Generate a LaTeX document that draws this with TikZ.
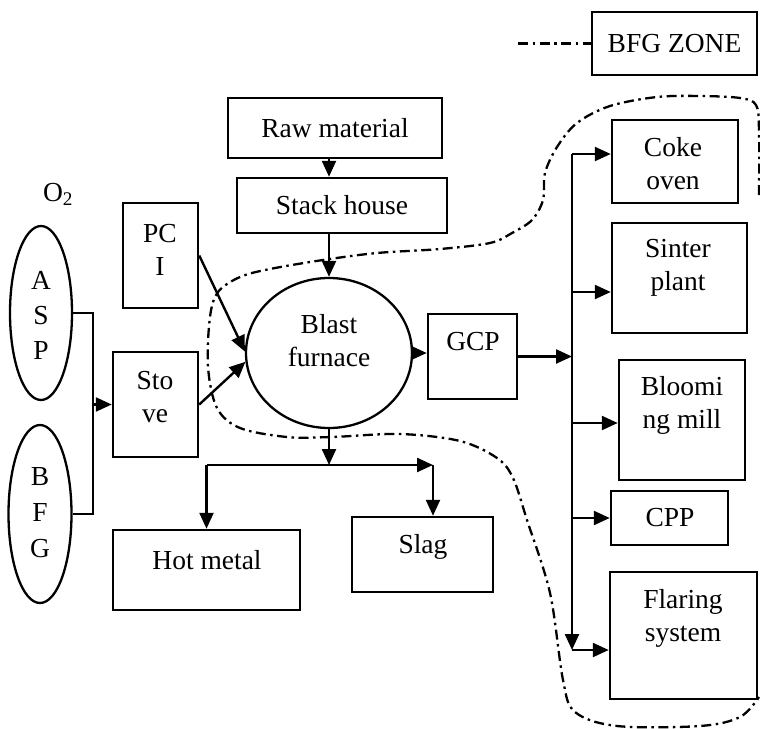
\documentclass[tikz,border=0pt]{standalone}
\usepackage{fontspec}
\setmainfont{Liberation Serif}
\usetikzlibrary{arrows.meta,shapes.geometric}
\begin{document}
\begin{tikzpicture}[x=1pt,y=-1pt,
  box/.style={draw, line width=2.5pt, inner sep=0pt},
  oval/.style={draw, ellipse, line width=2.3pt, inner sep=0pt},
  txt/.style={align=center, inner sep=0pt, font=\fontsize{27.5}{33}\selectfont},
  arr/.style={-{Triangle[length=16pt,width=14pt]}, line width=2.4pt},
  ln/.style={line width=2.4pt},
  zone/.style={line width=2.3pt, dash pattern=on 10pt off 4.5pt on 2.5pt off 4.5pt}]
\useasboundingbox (0,0) rectangle (760,728);

% legend
\node[box, minimum width=165pt, minimum height=63pt] (legend) at (674.5,43.5) {};
\node[txt] (legendT) at (674.5,43.5) {BFG ZONE};
\coordinate (lgs) at (518,43.5);
\draw[zone] (lgs) -- (legend.west);

% boxes
\node[box, minimum width=214pt, minimum height=60pt] (raw) at (335,128) {};
\node[txt] (rawT) at (335,128) {Raw material};
\node[box, minimum width=210pt, minimum height=55pt] (stack) at (342,205.5) {};
\node[txt] (stackT) at (342,205.5) {Stack house};
\node[box, minimum width=75pt, minimum height=105pt] (pci) at (160.5,255.5) {};
\node[txt] (pciT) at (160,250) {PC\\I};
\node[box, minimum width=85pt, minimum height=105pt] (stove) at (155.5,404.5) {};
\node[txt] (stoveT) at (155,397) {Sto\\ve};
\node[oval, minimum width=166pt, minimum height=150pt] (blast) at (329,353) {};
\node[txt] (blastT) at (329,341) {Blast\\furnace};
\node[box, minimum width=89pt, minimum height=85pt] (gcp) at (472.5,356.5) {};
\node[txt] (gcpT) at (473,342) {GCP};

\node[oval, minimum width=62pt, minimum height=174pt] (asp) at (41,313) {};
\node[txt, font=\fontsize{27.5}{35}\selectfont] (aspT) at (41,315) {A\\S\\P};
\node[oval, minimum width=63pt, minimum height=178pt] (bfg) at (40,514) {};
\node[txt, font=\fontsize{27.5}{36}\selectfont] (bfgT) at (40,513) {B\\F\\G};
\node[txt] (o2) at (58,194) {O\textsubscript{2}};

\node[box, minimum width=126pt, minimum height=83pt] (coke) at (675,161.5) {};
\node[txt] (cokeT) at (673,164) {Coke\\oven};
\node[box, minimum width=135pt, minimum height=110pt] (sinter) at (679.5,278) {};
\node[txt] (sinterT) at (678,268) {Sinter\\plant};
\node[box, minimum width=126pt, minimum height=120pt] (bloom) at (682,420) {};
\node[txt] (bloomT) at (682,405) {Bloomi\\ng mill};
\node[box, minimum width=117pt, minimum height=54pt] (cpp) at (669.5,518) {};
\node[txt] (cppT) at (670,518) {CPP};
\node[box, minimum width=147pt, minimum height=127pt] (flare) at (683.5,635.5) {};
\node[txt] (flareT) at (683,618) {Flaring\\system};

\node[box, minimum width=187pt, minimum height=80pt] (hot) at (206.5,570) {};
\node[txt] (hotT) at (207,560) {Hot metal};
\node[box, minimum width=141pt, minimum height=75pt] (slag) at (422.5,554.5) {};
\node[txt] (slagT) at (423,547) {Slag};

% top chain
\draw[arr] (raw.south -| blast.north) -- (stack.north -| blast.north);
\draw[arr] (stack.south -| blast.north) -- (blast.north);

% left inputs
\coordinate (jx) at (93,404.5);
\draw[ln] (asp.east) -| (jx) |- (bfg.east);
\draw[arr] (jx) -- (stove.west);
\draw[arr] (pci.east) -- (blast.179);
\draw[arr] (stove.east) -- (blast.186);

% to GCP and bus
\draw[arr] (blast.east) -- (blast.east -| gcp.west);
\coordinate (b1) at (572,154);
\coordinate (b2) at (572,292);
\coordinate (b3) at (572,423);
\coordinate (b4) at (572,518);
\coordinate (b5) at (572,650);
\draw[arr] (gcp.east) -- (gcp.east -| b1);
\draw[arr] (b1) -- (b5);
\draw[arr] (b1) -- (b1 -| coke.west);
\draw[arr] (b2) -- (b2 -| sinter.west);
\draw[arr] (b3) -- (b3 -| bloom.west);
\draw[arr] (b4) -- (b4 -| cpp.west);
\draw[arr] (b5) -- (b5 -| flare.west);

% bottom outputs
\coordinate (j) at (329,465);
\coordinate (hl) at (206.5,465);
\coordinate (sr) at (433,465);
\draw[arr] (blast.south) -- (j);
\draw[arr] (hl) -- (sr);
\draw[arr] (hl) -- (hot.north);
\draw[arr] (sr) -- (sr |- slag.north);

% BFG zone boundary
\draw[zone] plot[smooth, tension=0.55] coordinates {
 (759,195) (759,130) (756,105) (740,98) (700,96) (657,97) (610,106) (577,123)
 (557,147) (545,173) (543,200) (532,220) (512,233) (490,243) (440,249) (377,253)
 (323,260) (270,269) (240,277) (218,292) (210,317) (208,367) (217,408) (240,428)
 (287,437) (332,437) (400,434) (460,441) (497,458) (513,478) (527,520) (550,593)
 (563,680) (575,712) (617,726) (700,726) (740,717) (759,697)};
\end{tikzpicture}
\end{document}
